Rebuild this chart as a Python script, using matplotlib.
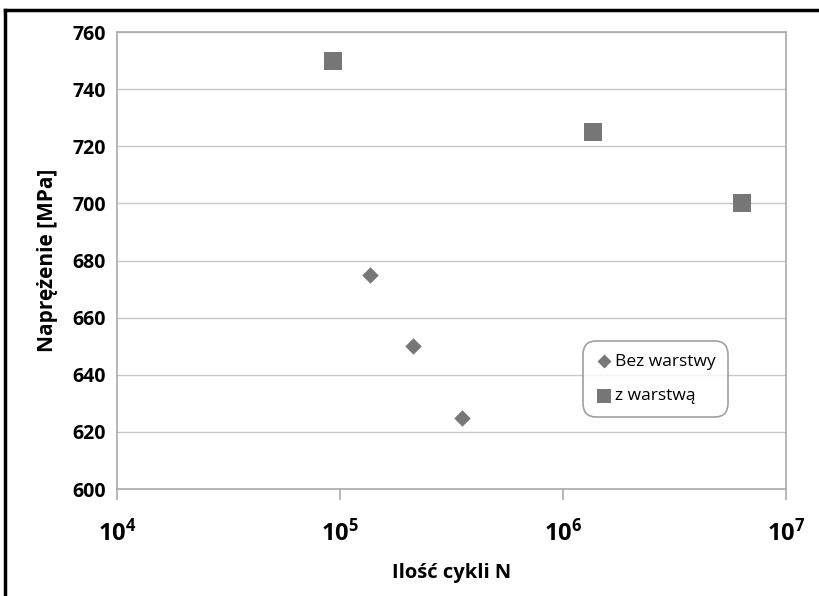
import matplotlib
matplotlib.use("Agg")
import matplotlib.pyplot as plt
from matplotlib.lines import Line2D

# data
bez_n = [1.36e5, 2.12e5, 3.52e5]
bez_s = [675, 650, 625]
z_n = [9.3e4, 1.36e6, 6.35e6]
z_s = [750, 725, 700]

y_ticks = [600, 620, 640, 660, 680, 700, 720, 740, 760]
x_ticks = [1e4, 1e5, 1e6, 1e7]
x_labels = [r"$\mathbf{10^{4}}$", r"$\mathbf{10^{5}}$", r"$\mathbf{10^{6}}$", r"$\mathbf{10^{7}}$"]

plt.rcParams["font.family"] = ["Open Sans", "DejaVu Sans"]
plt.rcParams["mathtext.fontset"] = "custom"
plt.rcParams["mathtext.bf"] = "Open Sans:bold"
plt.rcParams["mathtext.rm"] = "Open Sans"

fig = plt.figure(figsize=(8.2, 5.96), dpi=100)
ax = fig.add_axes([0.1427, 0.1795, 0.8158, 0.7668])

grey = "#777777"
ax.scatter(bez_n, bez_s, marker="D", s=70, color=grey, linewidths=0, zorder=3, label="Bez warstwy")
ax.scatter(z_n, z_s, marker="s", s=150, color=grey, linewidths=0, zorder=3, label="z warstwą")

ax.set_xscale("log")
ax.set_xlim(1e4, 1e7)
ax.set_ylim(600, 760)
ax.set_yticks(y_ticks)
ax.set_xticks(x_ticks)
ax.set_xticklabels(x_labels)
ax.minorticks_off()
ax.grid(axis="y", color="#c8c8c8", linewidth=1)
ax.set_axisbelow(True)

for sp in ax.spines.values():
    sp.set_color("#aaaaaa")
    sp.set_linewidth(1.2)

ax.tick_params(axis="y", length=0, pad=8, labelsize=14)
ax.tick_params(axis="x", length=8, width=1.2, color="#aaaaaa", direction="out", pad=14, labelsize=17)
for t in ax.get_yticklabels():
    t.set_fontweight("bold")

ax.set_ylabel("Naprężenie [MPa]", fontsize=15, fontweight="bold", labelpad=10)
ax.set_xlabel("Ilość cykli N", fontsize=14.5, fontweight="bold", labelpad=12)

leg = ax.legend(loc="lower left", bbox_to_anchor=(0.683, 0.138), fontsize=12.5,
                frameon=True, fancybox=True, edgecolor="#888888", labelspacing=1.05,
                handletextpad=0.1, handlelength=1.0, borderpad=0.75, markerscale=0.85)
leg.get_frame().set_linewidth(1.2)
leg.get_frame().set_boxstyle("round", pad=0, rounding_size=0.8)

# black frame lines on left and top edge of the picture
fig.add_artist(Line2D([0.0065, 0.0065], [0, 0.983], color="black", linewidth=2.5, transform=fig.transFigure))
fig.add_artist(Line2D([0.0065, 1.0], [0.983, 0.983], color="black", linewidth=2.5, transform=fig.transFigure))

fig.savefig("out.png", dpi=100)
